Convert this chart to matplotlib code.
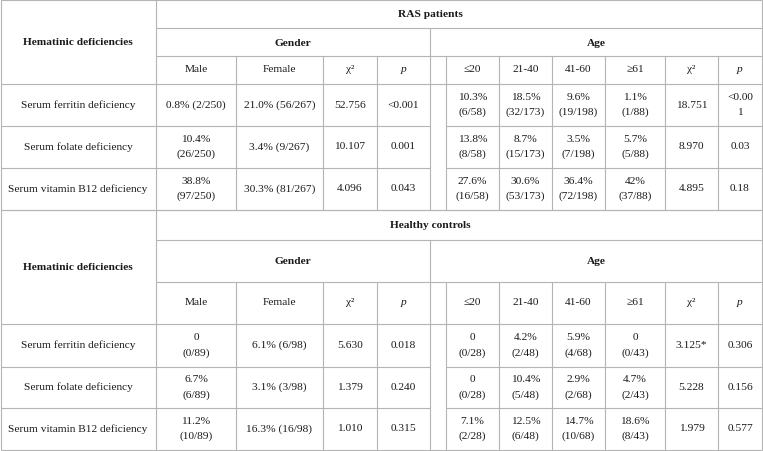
import matplotlib
matplotlib.use("Agg")
import matplotlib.pyplot as plt

plt.rcParams['font.family'] = ['Liberation Serif', 'DejaVu Serif']

# table content
sections = ["RAS patients", "Healthy controls"]
row_labels = ["Serum ferritin deficiency", "Serum folate deficiency",
              "Serum vitamin B12 deficiency"]
gender_heads = ["Male", "Female", "χ²", "p"]
age_heads = ["≤20", "21-40", "41-60", "≥61", "χ²", "p"]

ras_gender = [
    ["0.8% (2/250)", "21.0% (56/267)", "52.756", "<0.001"],
    ["10.4%\n(26/250)", "3.4% (9/267)", "10.107", "0.001"],
    ["38.8%\n(97/250)", "30.3% (81/267)", "4.096", "0.043"],
]
ras_age = [
    ["10.3%\n(6/58)", "18.5%\n(32/173)", "9.6%\n(19/198)", "1.1%\n(1/88)", "18.751", "<0.00\n1"],
    ["13.8%\n(8/58)", "8.7%\n(15/173)", "3.5%\n(7/198)", "5.7%\n(5/88)", "8.970", "0.03"],
    ["27.6%\n(16/58)", "30.6%\n(53/173)", "36.4%\n(72/198)", "42%\n(37/88)", "4.895", "0.18"],
]
hc_gender = [
    ["0\n(0/89)", "6.1% (6/98)", "5.630", "0.018"],
    ["6.7%\n(6/89)", "3.1% (3/98)", "1.379", "0.240"],
    ["11.2%\n(10/89)", "16.3% (16/98)", "1.010", "0.315"],
]
hc_age = [
    ["0\n(0/28)", "4.2%\n(2/48)", "5.9%\n(4/68)", "0\n(0/43)", "3.125*", "0.306"],
    ["0\n(0/28)", "10.4%\n(5/48)", "2.9%\n(2/68)", "4.7%\n(2/43)", "5.228", "0.156"],
    ["7.1%\n(2/28)", "12.5%\n(6/48)", "14.7%\n(10/68)", "18.6%\n(8/43)", "1.979", "0.577"],
]

# layout (pixels)
W, H = 763, 452
x_left, x_lab, x_mid, x_gap, x_right = 0.5, 156, 430, 446, 762
gx = [156, 236, 323, 377, 430]
ax_cols = [446, 499, 552, 605, 665, 718, 762]
blocks = [
    dict(top=0.5, rows=[29, 57, 85, 127, 169, 211]),
    dict(top=211, rows=[241, 283, 325, 368, 409, 451]),
]
LC = "#b4b4b4"
TC = "#1a1a1a"
FS = 8.2
LS = 15

fig = plt.figure(figsize=(W / 100, H / 100), dpi=100)
ax = fig.add_axes([0, 0, 1, 1])
ax.set_xlim(0, W)
ax.set_ylim(H, 0)
ax.axis("off")


def hline(y, x0, x1):
    ax.plot([x0, x1], [y, y], color=LC, lw=0.8, solid_capstyle="butt")


def vline(x, y0, y1):
    ax.plot([x, x], [y0, y1], color=LC, lw=0.8, solid_capstyle="butt")


def cell(x, y, s, **kw):
    lines = s.split("\n")
    n = len(lines)
    for i, t in enumerate(lines):
        ax.text(x, y + (i - (n - 1) / 2) * LS, t, ha="center", va="center",
                fontsize=FS, color=TC, **kw)


data = [(ras_gender, ras_age), (hc_gender, hc_age)]
for b, blk, name, (gd, ad) in zip(range(2), blocks, sections, data):
    top = blk["top"]
    r = blk["rows"]
    # horizontal lines
    hline(top, x_left, x_right)
    hline(r[0], x_lab, x_right)
    hline(r[1], x_lab, x_right)
    hline(r[2], x_left, x_right)
    hline(r[3], x_left, x_mid)
    hline(r[3], x_gap, x_right)
    hline(r[4], x_left, x_mid)
    hline(r[4], x_gap, x_right)
    hline(r[5], x_left, x_right)
    # vertical lines
    vline(x_left, top, r[5])
    vline(x_right, top, r[5])
    vline(x_lab, top, r[5])
    vline(x_mid, r[0], r[5])
    for x in gx[1:4]:
        vline(x, r[1], r[5])
    for x in ax_cols[:-1]:
        vline(x, r[1], r[5])

    # headers
    cell(x_lab / 2, (top + r[2]) / 2, "Hematinic deficiencies", fontweight="bold")
    cell(430, (top + r[0]) / 2, name, fontweight="bold")
    cell((x_lab + x_mid) / 2, (r[0] + r[1]) / 2, "Gender", fontweight="bold")
    cell((x_mid + x_right) / 2, (r[0] + r[1]) / 2, "Age", fontweight="bold")
    yh = (r[1] + r[2]) / 2 - 1
    for j, h in enumerate(gender_heads):
        cx = (gx[j] + gx[j + 1]) / 2
        cell(cx, yh, h, fontstyle="italic" if h == "p" else "normal")
    for j, h in enumerate(age_heads):
        cx = (ax_cols[j] + ax_cols[j + 1]) / 2
        cell(cx, yh, h, fontstyle="italic" if h == "p" else "normal")

    # body
    for i in range(3):
        cy = (r[2 + i] + r[3 + i]) / 2 - 1
        cell(x_lab / 2, cy, row_labels[i])
        for j, v in enumerate(gd[i]):
            cell((gx[j] + gx[j + 1]) / 2, cy, v)
        for j, v in enumerate(ad[i]):
            cell((ax_cols[j] + ax_cols[j + 1]) / 2, cy, v)

fig.savefig("out.png", dpi=100, facecolor="white")
